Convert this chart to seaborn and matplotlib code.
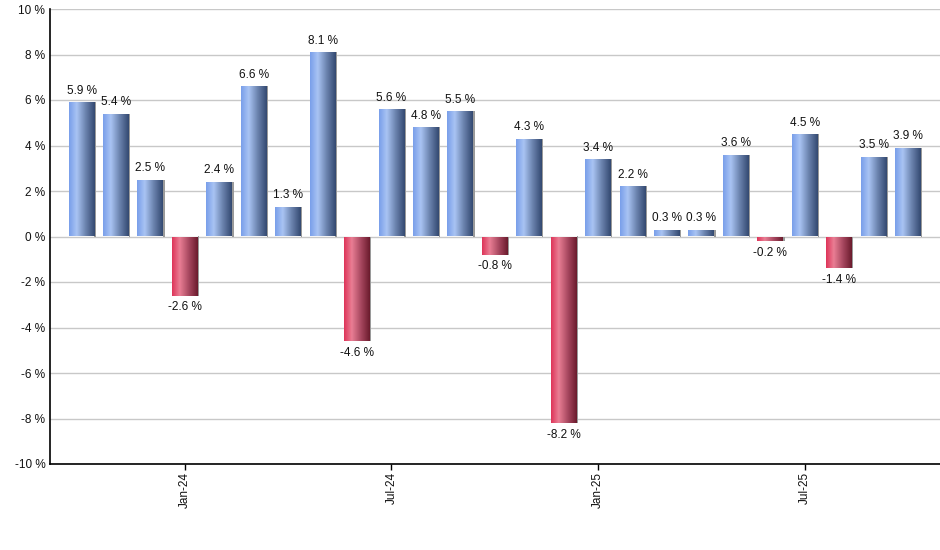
import numpy as np
import pandas as pd
import matplotlib
matplotlib.use("Agg")
import matplotlib.pyplot as plt
import seaborn as sns
from matplotlib.colors import LinearSegmentedColormap

months = ["Oct-23", "Nov-23", "Dec-23", "Jan-24", "Feb-24", "Mar-24", "Apr-24",
          "May-24", "Jun-24", "Jul-24", "Aug-24", "Sep-24", "Oct-24", "Nov-24",
          "Dec-24", "Jan-25", "Feb-25", "Mar-25", "Apr-25", "May-25", "Jun-25",
          "Jul-25", "Aug-25", "Sep-25", "Oct-25"]
returns = [5.9, 5.4, 2.5, -2.6, 2.4, 6.6, 1.3, 8.1, -4.6, 5.6, 4.8, 5.5, -0.8,
           4.3, -8.2, 3.4, 2.2, 0.3, 0.3, 3.6, -0.2, 4.5, -1.4, 3.5, 3.9]
shown_ticks = ["Jan-24", "Jul-24", "Jan-25", "Jul-25"]
y_ticks = [-10, -8, -6, -4, -2, 0, 2, 4, 6, 8, 10]

df = pd.DataFrame({"month": months, "ret": returns})

sns.set_theme(style="white")
plt.rcParams["font.family"] = ["Liberation Sans", "DejaVu Sans"]

fig = plt.figure(figsize=(9.4, 5.5), dpi=100)
ax = fig.add_axes([49.5 / 940, 86 / 550, 1 - 49.5 / 940, 455 / 550])

sns.barplot(data=df, x="month", y="ret", ax=ax, width=0.75, color="#7ea4ee",
            saturation=1, zorder=3)

blue_cmap = LinearSegmentedColormap.from_list(
    "b", [(0, "#789eea"), (0.3, "#a9c4f3"), (0.65, "#6a82ad"), (1, "#334870")])
red_cmap = LinearSegmentedColormap.from_list(
    "r", [(0, "#de3358"), (0.3, "#e97e94"), (0.65, "#a84860"), (1, "#6a1a2c")])
grad = np.linspace(0, 1, 256).reshape(1, -1)

for patch, v in zip(ax.patches, returns):
    x0, y0 = patch.get_x(), patch.get_y()
    w, h = patch.get_width(), patch.get_height()
    ylo, yhi = min(y0, y0 + h), max(y0, y0 + h)
    # shadow
    ax.add_patch(plt.Rectangle((x0 + w, ylo), 0.04, yhi - ylo, color="#9a9a9a",
                               zorder=2.9, lw=0))
    im = ax.imshow(grad, aspect="auto", cmap=blue_cmap if v >= 0 else red_cmap,
                   extent=(x0, x0 + w, ylo, yhi), zorder=3.1, interpolation="bilinear")
    im.set_clip_path(patch)
    patch.set_facecolor("none")
    patch.set_edgecolor("none")
    lab = f"{v:.1f} %"
    if v >= 0:
        ax.annotate(lab, (x0 + w / 2, yhi), xytext=(0, 4), textcoords="offset points",
                    ha="center", va="bottom", fontsize=8.5, color="#111111", zorder=5)
    else:
        ax.annotate(lab, (x0 + w / 2, ylo), xytext=(0, -4), textcoords="offset points",
                    ha="center", va="top", fontsize=8.5, color="#111111", zorder=5)

ax.set_xlim(-0.93, len(months) - 1 + 0.93)
ax.set_ylim(-10, 10)
ax.set_yticks(y_ticks)
ax.set_yticklabels([f"{t} %" for t in y_ticks], fontsize=8.5, color="#111111")
tick_pos = [months.index(m) for m in shown_ticks]
ax.set_xticks(tick_pos)
ax.set_xticklabels(shown_ticks, rotation=90, fontsize=8.5, color="#111111")
ax.set_xlabel("")
ax.set_ylabel("")
ax.grid(axis="y", color="#c8c8c8", lw=1, zorder=0)
ax.set_axisbelow(True)
for s in ["top", "right"]:
    ax.spines[s].set_visible(False)
for s in ["left", "bottom"]:
    ax.spines[s].set_color("black")
    ax.spines[s].set_linewidth(1.2)
ax.tick_params(axis="x", bottom=True, length=4, width=1, color="black", pad=2)
ax.tick_params(axis="y", left=False, length=0, pad=3)

fig.savefig("out.png", dpi=100)
